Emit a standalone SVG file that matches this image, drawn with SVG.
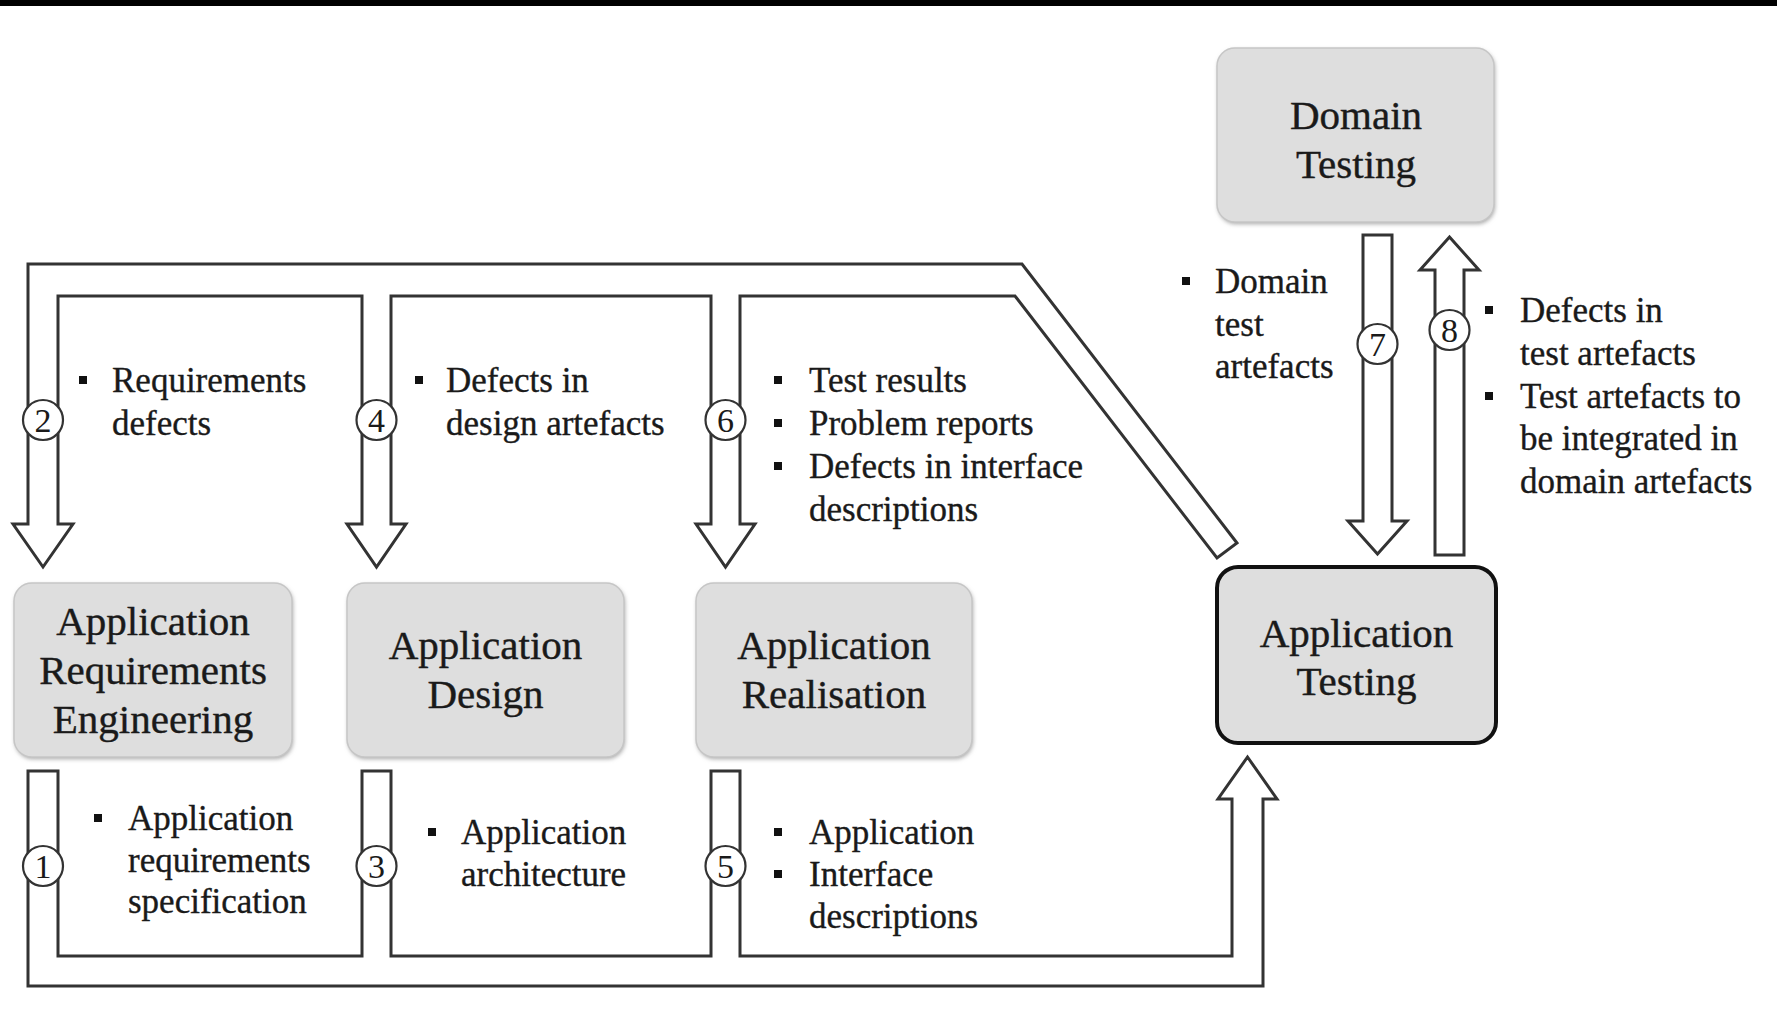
<svg xmlns="http://www.w3.org/2000/svg" width="1777" height="1010" viewBox="0 0 1777 1010">
  <defs>
    <filter id="soft" x="-5%" y="-5%" width="110%" height="115%">
      <feGaussianBlur stdDeviation="2"/>
    </filter>
  </defs>
  <style>
    .box { fill: #dedede; stroke: #c6c6c6; stroke-width: 1.5; }
    .shadow { fill: #a8a8a8; filter: url(#soft); }
    .focus { fill: #dedede; stroke: #111; stroke-width: 4; }
    .title { font-family: "Liberation Serif", "Times New Roman", serif; font-size: 41px; fill: #1a1a1a; stroke: #1a1a1a; stroke-width: 0.4; text-anchor: middle; }
    .label { font-family: "Liberation Serif", "Times New Roman", serif; font-size: 35px; fill: #1a1a1a; stroke: #1a1a1a; stroke-width: 0.35; }
    .flow { fill: none; stroke: #333; stroke-width: 3; stroke-linejoin: miter; }
    .badge circle { fill: #fff; stroke: #333; stroke-width: 2.2; }
    .badge text { font-family: "Liberation Serif", "Times New Roman", serif; font-size: 34px; fill: #1a1a1a; text-anchor: middle; }
    .dot { fill: #111; }
  </style>

  <rect width="1777" height="1010" fill="#fff"/>
  <rect x="0" y="0" width="1777" height="6" fill="#000"/>

  <!-- process nodes -->
  <g id="node-are">
    <rect class="shadow" x="15" y="585" width="278" height="174" rx="18"/>
    <rect class="box" x="14" y="583" width="278" height="174" rx="18"/>
    <text class="title" x="153" y="635">Application</text>
    <text class="title" x="153" y="684">Requirements</text>
    <text class="title" x="153" y="733">Engineering</text>
  </g>
  <g id="node-design">
    <rect class="shadow" x="348" y="585" width="277" height="174" rx="18"/>
    <rect class="box" x="347" y="583" width="277" height="174" rx="18"/>
    <text class="title" x="485.5" y="659">Application</text>
    <text class="title" x="485.5" y="708">Design</text>
  </g>
  <g id="node-realisation">
    <rect class="shadow" x="697" y="585" width="276" height="174" rx="18"/>
    <rect class="box" x="696" y="583" width="276" height="174" rx="18"/>
    <text class="title" x="834" y="659">Application</text>
    <text class="title" x="834" y="708">Realisation</text>
  </g>
  <g id="node-domain-testing">
    <rect class="shadow" x="1218" y="50" width="277" height="174" rx="18"/>
    <rect class="box" x="1217" y="48" width="277" height="174" rx="18"/>
    <text class="title" x="1356" y="129">Domain</text>
    <text class="title" x="1356" y="178">Testing</text>
  </g>
  <g id="node-app-testing">
    <rect class="focus" x="1217" y="567" width="279" height="176" rx="21"/>
    <text class="title" x="1356.5" y="647">Application</text>
    <text class="title" x="1356.5" y="695">Testing</text>
  </g>

  <!-- connectors: hollow block arrows -->
  <g id="connectors">
    <!-- feedback channel from Application Testing back to the earlier phases -->
    <path class="flow" d="M1237,543 L1022,264 L28,264 L28,524 L13,524 L43,567 L73,524 L58,524 L58,296 L362,296 L362,524 L347,524 L376.5,567 L406,524 L391,524 L391,296 L711,296 L711,524 L696,524 L725.5,567 L755,524 L740,524 L740,296 L1015,296 L1217,558 Z"/>
    <!-- forward channel from the phases into Application Testing -->
    <path class="flow" d="M28,771 L28,986 L1263,986 L1263,799 L1277,799 L1247.5,757 L1218,799 L1232,799 L1232,956 L740,956 L740,771 L711,771 L711,956 L391,956 L391,771 L362,771 L362,956 L58,956 L58,771 Z"/>
    <!-- Domain Testing to Application Testing -->
    <path class="flow" d="M1363,235 L1392,235 L1392,521 L1407,521 L1377.5,554 L1348,521 L1363,521 Z"/>
    <!-- Application Testing back to Domain Testing -->
    <path class="flow" d="M1435,555 L1435,270 L1420,270 L1449.5,237 L1479,270 L1464,270 L1464,555 Z"/>

    <g class="badge"><circle cx="43" cy="866" r="20"/><text x="43" y="878">1</text></g>
    <g class="badge"><circle cx="43" cy="420" r="20"/><text x="43" y="432">2</text></g>
    <g class="badge"><circle cx="376.5" cy="866" r="20"/><text x="376.5" y="878">3</text></g>
    <g class="badge"><circle cx="376.5" cy="420" r="20"/><text x="376.5" y="432">4</text></g>
    <g class="badge"><circle cx="725.5" cy="866" r="20"/><text x="725.5" y="878">5</text></g>
    <g class="badge"><circle cx="725.5" cy="420" r="20"/><text x="725.5" y="432">6</text></g>
    <g class="badge"><circle cx="1377.5" cy="344" r="20"/><text x="1377.5" y="356">7</text></g>
    <g class="badge"><circle cx="1449.5" cy="330" r="20"/><text x="1449.5" y="342">8</text></g>
  </g>

  <!-- flow labels -->
  <g id="label-2">
    <rect class="dot" x="79" y="376" width="8" height="8"/>
    <text class="label" x="112" y="392">Requirements</text>
    <text class="label" x="112" y="435">defects</text>
  </g>
  <g id="label-4">
    <rect class="dot" x="415" y="376" width="8" height="8"/>
    <text class="label" x="446" y="392">Defects in</text>
    <text class="label" x="446" y="435">design artefacts</text>
  </g>
  <g id="label-6">
    <rect class="dot" x="774" y="376" width="8" height="8"/>
    <text class="label" x="809" y="392">Test results</text>
    <rect class="dot" x="774" y="419" width="8" height="8"/>
    <text class="label" x="809" y="435">Problem reports</text>
    <rect class="dot" x="774" y="462" width="8" height="8"/>
    <text class="label" x="809" y="478">Defects in interface</text>
    <text class="label" x="809" y="521">descriptions</text>
  </g>
  <g id="label-1">
    <rect class="dot" x="94" y="814" width="8" height="8"/>
    <text class="label" x="128" y="830">Application</text>
    <text class="label" x="128" y="872">requirements</text>
    <text class="label" x="128" y="913">specification</text>
  </g>
  <g id="label-3">
    <rect class="dot" x="428" y="828" width="8" height="8"/>
    <text class="label" x="461" y="844">Application</text>
    <text class="label" x="461" y="886">architecture</text>
  </g>
  <g id="label-5">
    <rect class="dot" x="774" y="828" width="8" height="8"/>
    <text class="label" x="809" y="844">Application</text>
    <rect class="dot" x="774" y="870" width="8" height="8"/>
    <text class="label" x="809" y="886">Interface</text>
    <text class="label" x="809" y="928">descriptions</text>
  </g>
  <g id="label-7">
    <rect class="dot" x="1182" y="277" width="8" height="8"/>
    <text class="label" x="1215" y="293">Domain</text>
    <text class="label" x="1215" y="336">test</text>
    <text class="label" x="1215" y="378">artefacts</text>
  </g>
  <g id="label-8">
    <rect class="dot" x="1485" y="306" width="8" height="8"/>
    <text class="label" x="1520" y="322">Defects in</text>
    <text class="label" x="1520" y="365">test artefacts</text>
    <rect class="dot" x="1485" y="392" width="8" height="8"/>
    <text class="label" x="1520" y="408">Test artefacts to</text>
    <text class="label" x="1520" y="450">be integrated in</text>
    <text class="label" x="1520" y="493">domain artefacts</text>
  </g>
</svg>
